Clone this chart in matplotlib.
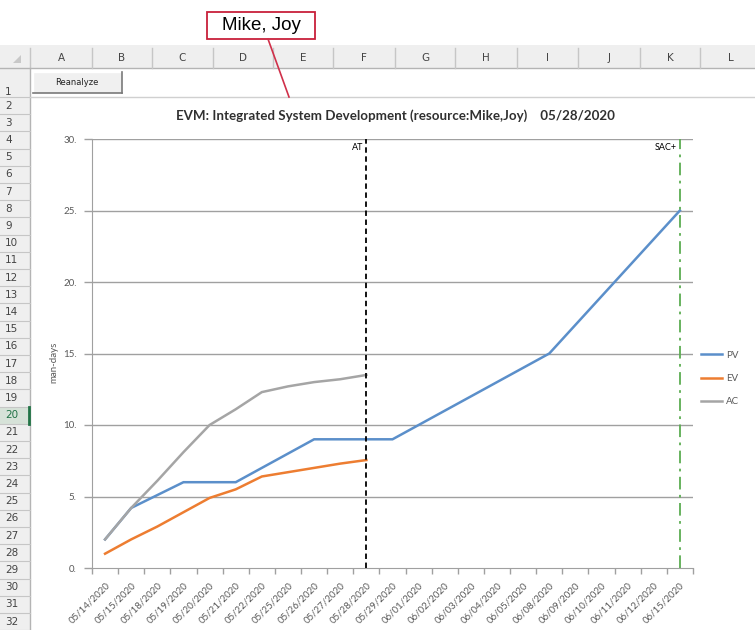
import matplotlib
matplotlib.use("Agg")
import matplotlib.pyplot as plt
from matplotlib.patches import Rectangle, Polygon
import numpy as np

# ---------------- data ----------------
dates = ["05/14/2020", "05/15/2020", "05/18/2020", "05/19/2020", "05/20/2020",
         "05/21/2020", "05/22/2020", "05/25/2020", "05/26/2020", "05/27/2020",
         "05/28/2020", "05/29/2020", "06/01/2020", "06/02/2020", "06/03/2020",
         "06/04/2020", "06/05/2020", "06/08/2020", "06/09/2020", "06/10/2020",
         "06/11/2020", "06/12/2020", "06/15/2020"]
pv = [2, 4.2, 5.1, 6, 6, 6, 7, 8, 9, 9, 9, 9, 10, 11, 12, 13, 14, 15, 17, 19, 21, 23, 25]
ev = [1, 2.0, 2.9, 3.9, 4.9, 5.5, 6.4, 6.7, 7.0, 7.3, 7.55]
ac = [2, 4.2, 6.1, 8.1, 10, 11.1, 12.3, 12.7, 13.0, 13.2, 13.5]
series_names = ["PV", "EV", "AC"]
at_date = "05/28/2020"
sac_date = "06/15/2020"
y_ticks = [0, 5, 10, 15, 20, 25, 30]
title = "EVM: Integrated System Development (resource:Mike,Joy)    05/28/2020"
col_letters = ["A", "B", "C", "D", "E", "F", "G", "H", "I", "J", "K", "L"]
row_numbers = list(range(1, 33))
callout_text = "Mike, Joy"
button_text = "Reanalyze"

# ---------------- figure ----------------
W, H = 755, 630
fig = plt.figure(figsize=(W / 100, H / 100), dpi=100)
fig.patch.set_facecolor("white")

# background (spreadsheet chrome) in pixel coordinates
bg = fig.add_axes([0, 0, 1, 1], zorder=0)
bg.set_xlim(0, W)
bg.set_ylim(H, 0)
bg.axis("off")

ui_font = "DejaVu Sans"
hdr_fill = "#efefef"
sep_col = "#c6c6c6"

# column header bar
bg.add_patch(Rectangle((0, 45), W, 23, facecolor=hdr_fill, edgecolor="none"))
bg.plot([0, W], [68, 68], color="#b4b4b4", lw=1)
col_edges = [30, 92, 152, 213, 273, 333, 395, 455, 517, 578, 640, 700, 761]
for xe in col_edges:
    bg.plot([xe, xe], [48, 68], color=sep_col, lw=1)
for i, c in enumerate(col_letters):
    cx = (col_edges[i] + col_edges[i + 1]) / 2
    bg.text(cx, 58, c, ha="center", va="center", fontsize=7.5, color="#444444",
            family=ui_font)
bg.add_patch(Polygon([[21, 55], [21, 63], [13, 63]], closed=True,
                     facecolor="#c8c8c8", edgecolor="none"))

# row header column
bg.add_patch(Rectangle((0, 68), 30, H - 68, facecolor=hdr_fill, edgecolor="none"))
bg.plot([30, 30], [68, H], color="#b4b4b4", lw=1)
row_tops = [68, 97] + [97 + k * 17.2 for k in range(1, 32)]
for yv in row_tops[1:]:
    bg.plot([0, 30], [yv, yv], color=sep_col, lw=0.8)
bg.plot([30, W], [97, 97], color="#d0d0d0", lw=1)
for n in row_numbers:
    top = row_tops[n - 1]
    bot = row_tops[n] if n < len(row_tops) else top + 17.2
    if n == 20:
        bg.add_patch(Rectangle((0, top), 30, bot - top, facecolor="#d6e2d8",
                               edgecolor="none"))
        bg.plot([29, 29], [top, bot], color="#217346", lw=2)
        col = "#217346"
    else:
        col = "#444444"
    ty = bot - 5 if n == 1 else (top + bot) / 2
    bg.text(5, ty, str(n), ha="left", va="center", fontsize=7.5, color=col,
            family=ui_font)

# Reanalyze button
bg.add_patch(Rectangle((33, 72), 89, 21, facecolor="#f0f0f0", edgecolor="none"))
bg.plot([33, 122], [72, 72], color="#ffffff", lw=1)
bg.plot([33, 33], [72, 93], color="#ffffff", lw=1)
bg.plot([33, 122], [93, 93], color="#7a7a7a", lw=1.2)
bg.plot([122, 122], [72, 93], color="#7a7a7a", lw=1.2)
bg.text(77, 82.5, button_text, ha="center", va="center", fontsize=6,
        color="#222222", family=ui_font)

# callout
bg.add_patch(Rectangle((207, 12), 108, 27, facecolor="white",
                       edgecolor="#c8203a", lw=1.3, zorder=3))
bg.text(261, 26, callout_text, ha="center", va="center", fontsize=13.5,
        color="black", family="Liberation Sans", zorder=4)
bg.plot([268, 289], [39, 97], color="#d0304a", lw=1.2, zorder=3)

# ---------------- chart ----------------
chart_font = "Lato"
L, R, T, B = 92, 693, 139, 568
ax = fig.add_axes([L / W, (H - B) / H, (R - L) / W, (B - T) / H], zorder=2)
ax.set_facecolor("none")

x = np.arange(len(dates))
grid_col = "#a0a0a0"
for yv in y_ticks[1:]:
    ax.axhline(yv, color=grid_col, lw=1, zorder=1)

colors = ["#5b8fca", "#ed7d31", "#a5a5a5"]
lines = []
for vals, name, c in zip([pv, ev, ac], series_names, colors):
    ln, = ax.plot(x[:len(vals)], vals, color=c, lw=1.8, label=name, zorder=3,
                  solid_joinstyle="miter")
    lines.append(ln)

at_i = dates.index(at_date)
sac_i = dates.index(sac_date)
ax.plot([at_i, at_i], [0, 30], color="black", lw=1.3, ls=(0, (3, 2)), zorder=4)
ax.plot([sac_i, sac_i], [0, 30], color="#5cad52", lw=1.3, ls=(0, (7, 3, 1.5, 3)),
        zorder=4)
ax.text(at_i - 0.12, 29.4, "AT", ha="right", va="center", fontsize=6.5,
        color="black", family=chart_font)
ax.text(sac_i - 0.12, 29.4, "SAC+", ha="right", va="center", fontsize=6.5,
        color="black", family=chart_font)

ax.set_xlim(-0.5, len(dates) - 0.5)
ax.set_ylim(0, 30)

for s in ["top", "right"]:
    ax.spines[s].set_visible(False)
ax.spines["left"].set_color(grid_col)
ax.spines["bottom"].set_color(grid_col)
ax.spines["left"].set_zorder(2)

ax.set_yticks(y_ticks)
ax.set_yticklabels([f"{v}." for v in y_ticks])
ax.tick_params(axis="y", length=6, width=1, color=grid_col, labelsize=7,
               labelcolor="#595959", pad=5)
for t in ax.get_yticklabels():
    t.set_family(chart_font)

ax.set_xticks(x)
ax.set_xticklabels(dates, rotation=45, ha="right", rotation_mode="anchor")
ax.set_xticks(np.arange(-0.5, len(dates)), minor=True)
ax.tick_params(axis="x", which="major", length=0, labelsize=7,
               labelcolor="#595959", pad=9)
ax.tick_params(axis="x", which="minor", length=4, width=1, color=grid_col)
for t in ax.get_xticklabels():
    t.set_family(chart_font)

fig.text(54 / W, 1 - 362 / H, "man-days", rotation=90, ha="center", va="center",
         fontsize=7, color="#595959", family=chart_font)

fig.text(395 / W, 1 - 116 / H, title, ha="center", va="center", fontsize=9.6,
         fontweight="bold", color="#303030", family=chart_font)

leg = fig.legend(handles=lines, labels=series_names, loc="upper left",
                 bbox_to_anchor=(697 / W, 1 - 347 / H), frameon=False,
                 prop={"family": chart_font, "size": 7}, handlelength=2.2,
                 handletextpad=0.4, labelspacing=1.45, borderaxespad=0)
for t in leg.get_texts():
    t.set_color("#595959")

fig.savefig("out.png", dpi=100, facecolor="white")
